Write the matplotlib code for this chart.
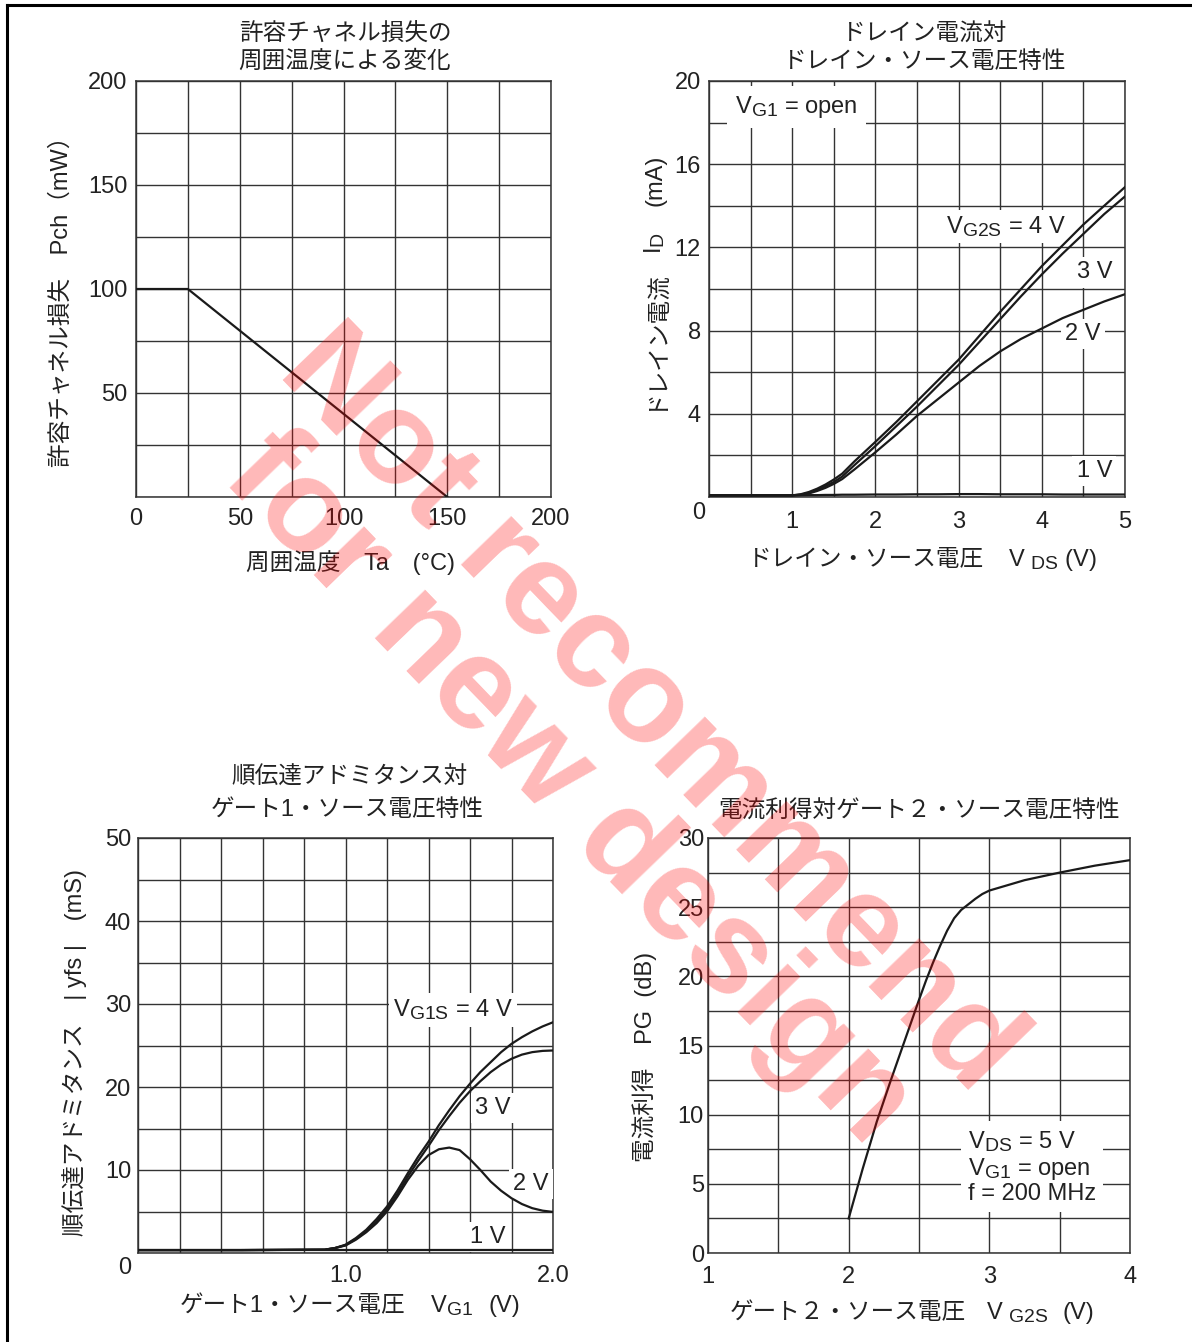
import numpy as np
import matplotlib
matplotlib.use('Agg')
import matplotlib.pyplot as plt
import matplotlib._mathtext as _mt
from matplotlib.lines import Line2D

# ---------------- data ----------------
# Chart 1: allowable channel dissipation vs ambient temperature
ta = [0, 25, 150]
pch = [100, 100, 0]

# Chart 2: drain current vs drain-source voltage
vds = [0, 0.5, 1.0, 1.1, 1.2, 1.3, 1.4, 1.5, 1.6, 1.75, 2.0, 2.25, 2.5, 2.75,
       3.0, 3.25, 3.5, 3.75, 4.0, 4.25, 4.5, 4.75, 5.0]
id_4v = [0.08, 0.08, 0.08, 0.13, 0.24, 0.4, 0.6, 0.84, 1.12, 1.72, 2.65, 3.6, 4.6, 5.6,
         6.6, 7.75, 8.9, 10.0, 11.1, 12.1, 13.1, 14.0, 14.9]
id_3v = [0.08, 0.08, 0.08, 0.11, 0.2, 0.34, 0.52, 0.72, 0.98, 1.54, 2.45, 3.4, 4.35, 5.35,
         6.35, 7.45, 8.55, 9.65, 10.7, 11.7, 12.65, 13.6, 14.45]
id_2v = [0.08, 0.08, 0.08, 0.1, 0.17, 0.29, 0.44, 0.63, 0.86, 1.33, 2.15, 3.0, 3.9, 4.7,
         5.5, 6.3, 7.0, 7.6, 8.1, 8.6, 9.0, 9.4, 9.75]
id_1v = [0.08, 0.08, 0.08, 0.08, 0.09, 0.09, 0.1, 0.1, 0.11, 0.11, 0.12, 0.12, 0.13, 0.13,
         0.14, 0.14, 0.13, 0.13, 0.13, 0.12, 0.12, 0.12, 0.12]

# Chart 3: forward transfer admittance vs gate1-source voltage
vg1 = [0, 0.5, 0.9, 0.95, 1.0, 1.05, 1.1, 1.15, 1.2, 1.25, 1.3, 1.35, 1.4, 1.45,
       1.5, 1.55, 1.6, 1.65, 1.7, 1.75, 1.8, 1.85, 1.9, 1.95, 2.0]
yfs_4v = [0.35, 0.35, 0.4, 0.6, 1.0, 1.8, 2.8, 4.1, 5.6, 7.5, 9.6, 11.6, 13.4, 15.4,
          17.2, 18.9, 20.4, 21.8, 23.0, 24.2, 25.2, 26.0, 26.7, 27.3, 27.8]
yfs_3v = [0.35, 0.35, 0.4, 0.6, 0.95, 1.7, 2.6, 3.8, 5.3, 7.1, 9.2, 11.1, 12.9, 14.8,
          16.5, 18.1, 19.5, 20.7, 21.8, 22.7, 23.4, 23.9, 24.2, 24.35, 24.4]
yfs_2v = [0.35, 0.35, 0.4, 0.6, 0.9, 1.6, 2.5, 3.6, 5.0, 6.8, 8.8, 10.5, 11.8, 12.5,
          12.7, 12.4, 11.3, 10.0, 8.6, 7.5, 6.6, 5.9, 5.4, 5.1, 4.95]
yfs_1v = [0.35] * 25

# Chart 4: power gain vs gate2-source voltage
vg2s = [2.0, 2.1, 2.2, 2.3, 2.4, 2.5, 2.55, 2.6, 2.65, 2.7, 2.75, 2.8, 2.85, 2.9,
        2.95, 3.0, 3.1, 3.25, 3.5, 3.75, 4.0]
pg = [2.5, 6.1, 9.5, 12.5, 15.4, 18.3, 19.7, 21.0, 22.2, 23.3, 24.2, 24.8, 25.2, 25.6,
      25.95, 26.2, 26.5, 26.95, 27.5, 28.0, 28.4]

# ---------------- style ----------------
FAM = ['Liberation Sans', 'Noto Sans CJK JP', 'DejaVu Sans']
plt.rcParams['font.family'] = FAM
plt.rcParams['mathtext.fontset'] = 'custom'
plt.rcParams['mathtext.rm'] = 'Liberation Sans'
plt.rcParams['mathtext.it'] = 'Liberation Sans:italic'
plt.rcParams['mathtext.bf'] = 'Liberation Sans:bold'
plt.rcParams['mathtext.default'] = 'regular'
# subscripts in the reference are only slightly smaller than the main text
_mt.SHRINK_FACTOR = 0.82

TXT = '#222222'
GRID = '#333333'
LINE = '#1a1a1a'
FS = 17

W, H = 1192, 1342
fig = plt.figure(figsize=(W / 100, H / 100), dpi=100)
fig.patch.set_facecolor('white')


def fx(x):
    return x / W


def fy(y):
    return 1 - y / H


def px_axes(l, t, r, b):
    return fig.add_axes([l / W, 1 - b / H, (r - l) / W, (b - t) / H])


def style(ax, xlim, ylim, xt, xl, yt, yl, xpad, ypad):
    ax.set_xlim(*xlim)
    ax.set_ylim(*ylim)
    ax.set_xticks(xt, xl)
    ax.set_yticks(yt, yl)
    ax.tick_params(axis='x', length=0, pad=xpad, labelsize=FS, colors=TXT)
    ax.tick_params(axis='y', length=0, pad=ypad, labelsize=FS, colors=TXT)
    ax.grid(True, color=GRID, lw=1.0)
    ax.set_axisbelow(True)
    for s in ax.spines.values():
        s.set_color(GRID)
        s.set_linewidth(1.1)


def ftext(x, y, s, **kw):
    kw.setdefault('fontsize', FS)
    kw.setdefault('color', TXT)
    kw.setdefault('ha', 'center')
    kw.setdefault('va', 'center')
    fig.text(fx(x), fy(y), s, **kw)


def compound(x0, y0, parts, rotation=0):
    """Draw text pieces one after another along a common baseline.
    x0, y0: start of baseline in image pixels (y downwards)."""
    r = fig.canvas.get_renderer()
    pos = x0 if rotation == 0 else H - y0
    for s, fam, gap in parts:
        kw = dict(fontsize=FS, color=TXT, ha='left', va='baseline',
                  rotation=rotation, rotation_mode='anchor')
        if fam is not None:
            kw['family'] = fam
        if rotation == 0:
            t = fig.text(pos / W, fy(y0), s, **kw)
        else:
            t = fig.text(fx(x0), pos / H, s, **kw)
        bb = t.get_window_extent(r)
        pos += (bb.width if rotation == 0 else bb.height) + gap


box = dict(facecolor='white', edgecolor='none', pad=3)

# ---------------- chart 1 ----------------
ax1 = px_axes(136, 81, 551, 497)
xt1 = np.arange(0, 201, 25)
style(ax1, (0, 200), (0, 200),
      xt1, ['0', '', '50', '', '100', '', '150', '', '200'],
      xt1, ['', '', '50', '', '100', '', '150', '', '200'], 8, 6)
ax1.plot(ta, pch, color=LINE, lw=1.6, zorder=4)
ftext(345, 35, '許容チャネル損失の')
ftext(345, 62, '周囲温度による変化')
ftext(350, 563, '周囲温度　Ta　(°C)')
ftext(62, 296, '許容チャネル損失　Pch（mW）', rotation=90)

# ---------------- chart 2 ----------------
ax2 = px_axes(709, 81, 1125, 497)
style(ax2, (0, 5), (0, 20),
      np.arange(0, 5.01, 0.5), ['', '', '1', '', '2', '', '3', '', '4', '', '5'],
      np.arange(0, 20.1, 2), ['', '', '4', '', '8', '', '12', '', '16', '', '20'], 10, 6)
for ys in (id_4v, id_3v, id_2v, id_1v):
    ax2.plot(vds, ys, color=LINE, lw=1.6, zorder=4)
ax2.text(-0.024, -0.038, '0', transform=ax2.transAxes, fontsize=FS, color=TXT,
         ha='center', va='center')
ax2.text(0.31, 18.75, 'V$_{G1}$ = open', fontsize=FS, color=TXT, ha='left', va='center',
         bbox=dict(facecolor='white', edgecolor='none', pad=6), zorder=3)
ax2.text(2.85, 13.0, 'V$_{G2S}$ = 4 V', fontsize=FS, color=TXT, ha='left', va='center',
         bbox=box, zorder=3)
ax2.text(4.42, 10.8, '3 V', fontsize=FS, color=TXT, ha='left', va='center', bbox=box, zorder=3)
ax2.text(4.28, 7.84, '2 V', fontsize=FS, color=TXT, ha='left', va='center', bbox=box, zorder=3)
ax2.text(4.42, 1.25, '1 V', fontsize=FS, color=TXT, ha='left', va='center', bbox=box, zorder=3)
ftext(925, 35, 'ドレイン電流対')
ftext(925, 62, 'ドレイン・ソース電圧特性')
compound(748, 566, [('ドレイン・ソース電圧', FAM, 24), ('V $_{DS}$ (V)', None, 0)])
compound(661, 410, [('ドレイン電流', FAM, 14), ('I$_{D}$', None, 26), ('(mA)', None, 0)],
         rotation=90)

# ---------------- chart 3 ----------------
ax3 = px_axes(138, 838, 553, 1253)
xl3 = [''] * 11
xl3[5] = '1.0'
xl3[10] = '2.0'
style(ax3, (0, 2), (0, 50),
      np.linspace(0, 2, 11), xl3,
      np.arange(0, 50.1, 5), ['', '', '10', '', '20', '', '30', '', '40', '', '50'], 8.5, 5)
for ys in (yfs_4v, yfs_3v, yfs_2v, yfs_1v):
    ax3.plot(vg1, ys, color=LINE, lw=1.6, zorder=4)
ax3.text(-0.031, -0.036, '0', transform=ax3.transAxes, fontsize=FS, color=TXT,
         ha='center', va='center')
ax3.text(1.229, 29.3, 'V$_{G1S}$ = 4 V', fontsize=FS, color=TXT, ha='left', va='center',
         bbox=box, zorder=3)
ax3.text(1.624, 17.5, '3 V', fontsize=FS, color=TXT, ha='left', va='center', bbox=box, zorder=3)
ax3.text(1.807, 8.3, '2 V', fontsize=FS, color=TXT, ha='left', va='center', bbox=box, zorder=3)
ax3.text(1.60, 1.9, '1 V', fontsize=FS, color=TXT, ha='left', va='center', bbox=box, zorder=3)
ftext(350, 778, '順伝達アドミタンス対')
ftext(347, 810, 'ゲート1・ソース電圧特性')
compound(180, 1312, [('ゲート1・ソース電圧', FAM, 24), ('V$_{G1}$', None, 16),
                     ('(V)', None, 0)])
ftext(75, 1053, '順伝達アドミタンス　| yfs |　(mS)', rotation=90)

# ---------------- chart 4 ----------------
ax4 = px_axes(708, 838, 1130, 1253)
style(ax4, (1, 4), (0, 30),
      np.arange(1, 4.01, 0.5), ['1', '', '2', '', '3', '', '4'],
      np.arange(0, 30.1, 2.5), ['0', '', '5', '', '10', '', '15', '', '20', '', '25', '', '30'],
      9.5, 3)
ax4.plot(vg2s, pg, color=LINE, lw=1.6, zorder=4)
ax4.text(2.85, 6.2, 'V$_{DS}$ = 5 V\nV$_{G1}$ = open\nf = 200 MHz', fontsize=FS, color=TXT,
         ha='left', va='center', linespacing=1.1,
         bbox=dict(facecolor='white', edgecolor='none', pad=5), zorder=3)
ftext(919, 812, '電流利得対ゲート２・ソース電圧特性')
compound(730, 1319, [('ゲート２・ソース電圧', FAM, 20), ('V $_{G2S}$', None, 14),
                     ('(V)', None, 0)])
ftext(645, 1057, '電流利得　PG  (dB)', rotation=90)

# ---------------- frame (top and left edges) ----------------
fig.add_artist(Line2D([fx(7), 1.0], [fy(5), fy(5)], transform=fig.transFigure,
                      color='black', lw=2.2))
fig.add_artist(Line2D([fx(7), fx(7)], [fy(5), 0.0], transform=fig.transFigure,
                      color='black', lw=2.2))

# ---------------- watermark ----------------
fig.text(fx(609), fy(750), 'Not recommend\nfor new design', rotation=-46,
         ha='center', va='center', multialignment='center',
         fontsize=95, fontweight='bold', family='Liberation Sans',
         color=(1.0, 0.0, 0.0, 0.28), linespacing=0.9, zorder=100)

fig.savefig('out.png', dpi=100, facecolor='white')
